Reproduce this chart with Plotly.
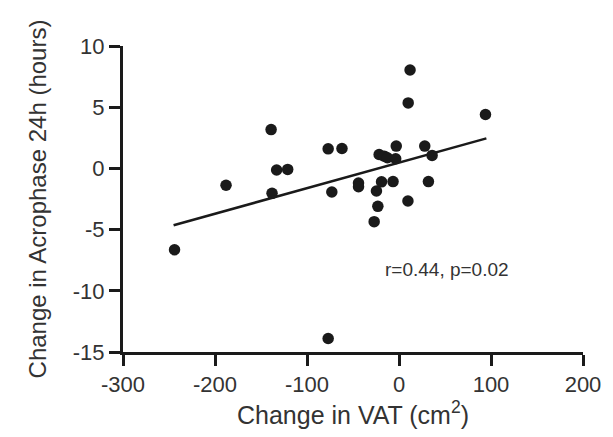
import plotly.graph_objects as go

vat_change = [-244, -188, -139, -138, -133, -121, -77, -77, -73, -62, -44, -44,
              -27, -24.5, -23, -21.6, -16, -19, -12.6, -6.5, -3.6, -3, 9.7, 10,
              12, 28, 32, 36, 94]
acrophase_change = [-6.65, -1.38, 3.17, -2.04, -0.13, -0.08, 1.6, -13.9, -1.93, 1.63,
                    -1.2, -1.5, -4.35, -1.85, -3.1, 1.14, 1.0, -1.1, 0.87, -1.08,
                    0.79, 1.82, -2.66, 5.35, 8.04, 1.82, -1.08, 1.06, 4.4]
fit_x = [-245, 95]
fit_y = [-4.64, 2.45]
x_ticks = [-300, -200, -100, 0, 100, 200]
x_tick_labels = ["-300", "-200", "-100", "0", "100", "200"]
y_ticks = [-15, -10, -5, 0, 5, 10]
y_tick_labels = ["-15", "-10", "-5", "0", "5", "10"]
stats_text = "r=0.44, p=0.02"

font = dict(family="Liberation Sans, Arial, sans-serif", color="#333333")

fig = go.Figure()
fig.add_trace(go.Scatter(x=fit_x, y=fit_y, mode="lines",
                         line=dict(color="#1a1a1a", width=2.5), showlegend=False))
fig.add_trace(go.Scatter(x=vat_change, y=acrophase_change, mode="markers",
                         marker=dict(color="#1a1a1a", size=11.5), showlegend=False))

fig.add_annotation(x=52, y=-8.3, text=stats_text, showarrow=False,
                   font=dict(size=19, **font))

axis_common = dict(showgrid=False, zeroline=False, showline=True, linecolor="#1a1a1a",
                   linewidth=3, ticks="outside", ticklen=11, tickwidth=3,
                   tickcolor="#1a1a1a", tickfont=dict(size=22, **font))

fig.update_xaxes(range=[-300, 200], tickvals=x_ticks, ticktext=x_tick_labels,
                 title=dict(text="Change in VAT (cm<sup>2</sup>)", font=dict(size=25, **font),
                            standoff=10),
                 **axis_common)
fig.update_yaxes(range=[-15, 10], tickvals=y_ticks, ticktext=y_tick_labels,
                 title=dict(text="Change in Acrophase 24h (hours)", font=dict(size=24, **font),
                            standoff=20),
                 **axis_common)

fig.update_layout(width=613, height=437, margin=dict(l=123, r=28, t=46, b=84),
                  plot_bgcolor="white", paper_bgcolor="white")

fig.write_html("out.html")
